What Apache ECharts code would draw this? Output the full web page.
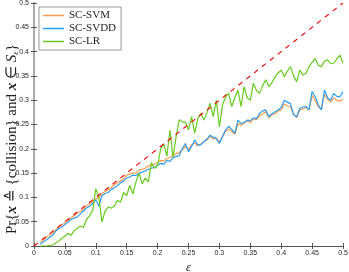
<!DOCTYPE html>
<html>
<head>
<meta charset="utf-8">
<script src="https://cdn.jsdelivr.net/npm/echarts@6/dist/echarts.min.js"></script>
<style>html,body{margin:0;padding:0;background:#fff;}#c{width:349px;height:272px;}</style>
</head>
<body>
<div id="c"></div>
<script>
const eps = [0.010,0.015,0.020,0.025,0.030,0.035,0.040,0.045,0.050,0.055,0.060,0.065,0.070,0.075,0.080,0.085,0.090,0.095,0.100,0.105,0.110,0.115,0.120,0.125,0.130,0.135,0.140,0.145,0.150,0.155,0.160,0.165,0.170,0.175,0.180,0.185,0.190,0.195,0.200,0.205,0.210,0.215,0.220,0.225,0.230,0.235,0.240,0.245,0.250,0.255,0.260,0.265,0.270,0.275,0.280,0.285,0.290,0.295,0.300,0.305,0.310,0.315,0.320,0.325,0.330,0.335,0.340,0.345,0.350,0.355,0.360,0.365,0.370,0.375,0.380,0.385,0.390,0.395,0.400,0.405,0.410,0.415,0.420,0.425,0.430,0.435,0.440,0.445,0.450,0.455,0.460,0.465,0.470,0.475,0.480,0.485,0.490,0.495,0.500];
const svm = [0.008,0.012,0.018,0.022,0.026,0.033,0.040,0.043,0.048,0.052,0.058,0.062,0.068,0.071,0.075,0.082,0.087,0.092,0.097,0.100,0.108,0.112,0.116,0.120,0.126,0.130,0.134,0.138,0.146,0.148,0.150,0.150,0.156,0.158,0.160,0.165,0.166,0.168,0.172,0.176,0.175,0.180,0.182,0.186,0.190,0.192,0.198,0.205,0.198,0.208,0.212,0.206,0.210,0.215,0.218,0.226,0.220,0.222,0.214,0.226,0.236,0.240,0.236,0.230,0.252,0.248,0.252,0.258,0.254,0.262,0.260,0.268,0.272,0.276,0.264,0.270,0.272,0.278,0.280,0.292,0.288,0.286,0.272,0.264,0.280,0.282,0.285,0.280,0.310,0.300,0.286,0.282,0.312,0.302,0.296,0.305,0.300,0.298,0.302];
const svdd = [0.004,0.008,0.013,0.017,0.022,0.030,0.036,0.039,0.044,0.049,0.055,0.057,0.060,0.066,0.072,0.078,0.082,0.088,0.095,0.082,0.104,0.108,0.110,0.116,0.120,0.124,0.130,0.134,0.140,0.142,0.146,0.145,0.150,0.152,0.155,0.158,0.160,0.162,0.166,0.170,0.168,0.176,0.174,0.182,0.184,0.186,0.200,0.211,0.194,0.205,0.218,0.208,0.208,0.215,0.220,0.228,0.224,0.221,0.211,0.225,0.239,0.246,0.240,0.232,0.259,0.252,0.254,0.259,0.258,0.263,0.262,0.273,0.278,0.280,0.266,0.272,0.276,0.280,0.285,0.300,0.296,0.293,0.270,0.266,0.283,0.286,0.287,0.280,0.318,0.307,0.290,0.280,0.321,0.305,0.300,0.314,0.308,0.307,0.317];
const lr = [0.000,0.000,0.000,0.001,0.002,0.006,0.010,0.016,0.020,0.026,0.022,0.032,0.036,0.041,0.038,0.055,0.062,0.074,0.118,0.100,0.049,0.072,0.080,0.078,0.082,0.094,0.090,0.110,0.104,0.125,0.107,0.132,0.150,0.128,0.140,0.132,0.172,0.160,0.165,0.200,0.210,0.185,0.238,0.183,0.225,0.260,0.255,0.255,0.239,0.266,0.232,0.262,0.273,0.259,0.275,0.294,0.266,0.300,0.245,0.290,0.307,0.314,0.287,0.305,0.321,0.287,0.328,0.305,0.300,0.335,0.320,0.314,0.330,0.342,0.328,0.336,0.348,0.356,0.362,0.348,0.360,0.369,0.350,0.338,0.362,0.352,0.355,0.369,0.378,0.386,0.372,0.369,0.380,0.383,0.375,0.376,0.385,0.393,0.376];
const refX = [0, 0.5];
const refY = [0, 0.5];
const seriesNames = ['SC-SVM', 'SC-SVDD', 'SC-LR'];
const yTitle = 'Pr{{b|x} ≙ {collision} and {b|x} ∈ {i|S}{s|ε}}';

const pairs = (xs, ys) => xs.map((x, i) => [x, ys[i]]);
const fmt = v => String(+v.toFixed(2));
const tickFont = {fontFamily: 'Liberation Sans', fontSize: 7, color: '#262626'};

const chart = echarts.init(document.getElementById('c'), null, {renderer: 'canvas'});
chart.setOption({
  animation: false,
  backgroundColor: '#fff',
  grid: {left: 34, right: 6, top: 3, bottom: 26, containLabel: false, outerBoundsMode: 'none'},
  graphic: [{
    type: 'text', x: 12, y: 139, rotation: Math.PI / 2, z: 10,
    style: {
      text: yTitle, fontFamily: 'Liberation Serif', fontSize: 15, fill: '#222',
      align: 'center', verticalAlign: 'middle',
      rich: {
        b: {fontFamily: 'Liberation Serif', fontSize: 15, fontWeight: 'bold', fontStyle: 'italic', fill: '#222'},
        i: {fontFamily: 'Liberation Serif', fontSize: 15, fontStyle: 'italic', fill: '#222'},
        s: {fontFamily: 'Liberation Serif', fontSize: 9, fontStyle: 'italic', fill: '#222', padding: [8, 0, 0, 0]}
      }
    }
  }],
  legend: {
    left: 39, top: 7, orient: 'vertical',
    data: seriesNames,
    icon: 'rect', itemWidth: 21, itemHeight: 1.5, itemGap: 2,
    backgroundColor: '#fff', borderColor: '#555', borderWidth: 0.6,
    padding: [3, 5, 3, 4],
    textStyle: {fontFamily: 'Liberation Serif', fontSize: 11, color: '#222'}
  },
  xAxis: [{
    type: 'value', min: 0, max: 0.5, interval: 0.05,
    name: 'ε', nameLocation: 'middle', nameGap: 15, nameMoveOverlap: false,
    nameTextStyle: {fontFamily: 'Liberation Serif', fontStyle: 'italic', fontSize: 13, color: '#222'},
    axisLine: {lineStyle: {color: '#555', width: 1}},
    axisTick: {inside: true, length: 3, lineStyle: {color: '#555'}},
    axisLabel: Object.assign({margin: 4, formatter: fmt}, tickFont),
    splitLine: {show: false}
  }, {
    type: 'value', min: 0, max: 0.5, interval: 0.05, position: 'top',
    axisLine: {lineStyle: {color: '#555', width: 1}},
    axisTick: {inside: true, length: 3, lineStyle: {color: '#555'}},
    axisLabel: {show: false}, splitLine: {show: false}
  }],
  yAxis: [{
    type: 'value', min: 0, max: 0.5, interval: 0.05,
    axisLine: {lineStyle: {color: '#555', width: 1}},
    axisTick: {inside: true, length: 3, lineStyle: {color: '#555'}},
    axisLabel: Object.assign({margin: 5, formatter: fmt}, tickFont),
    splitLine: {show: false}
  }, {
    type: 'value', min: 0, max: 0.5, interval: 0.05, position: 'right',
    axisLine: {show: true, lineStyle: {color: '#aaa', width: 2}},
    axisTick: {show: true, inside: true, length: 3, lineStyle: {color: '#555'}},
    axisLabel: {show: false}, splitLine: {show: false}
  }],
  series: [
    {name: 'SC-SVM', type: 'line', data: pairs(eps, svm), showSymbol: false, symbol: 'none',
     lineStyle: {color: '#fb9b4c', width: 1.2}, itemStyle: {color: '#fb9b4c'}},
    {name: 'SC-SVDD', type: 'line', data: pairs(eps, svdd), showSymbol: false, symbol: 'none',
     lineStyle: {color: '#2b9ff0', width: 1.2}, itemStyle: {color: '#2b9ff0'}},
    {name: 'SC-LR', type: 'line', data: pairs(eps, lr), showSymbol: false, symbol: 'none',
     lineStyle: {color: '#66cc1e', width: 1.2}, itemStyle: {color: '#66cc1e'}},
    {name: 'ref', type: 'line', data: pairs(refX, refY), showSymbol: false, symbol: 'none',
     lineStyle: {color: '#ee1111', width: 1.2, type: [5, 5]}, z: 5}
  ]
});
</script>
</body>
</html>
